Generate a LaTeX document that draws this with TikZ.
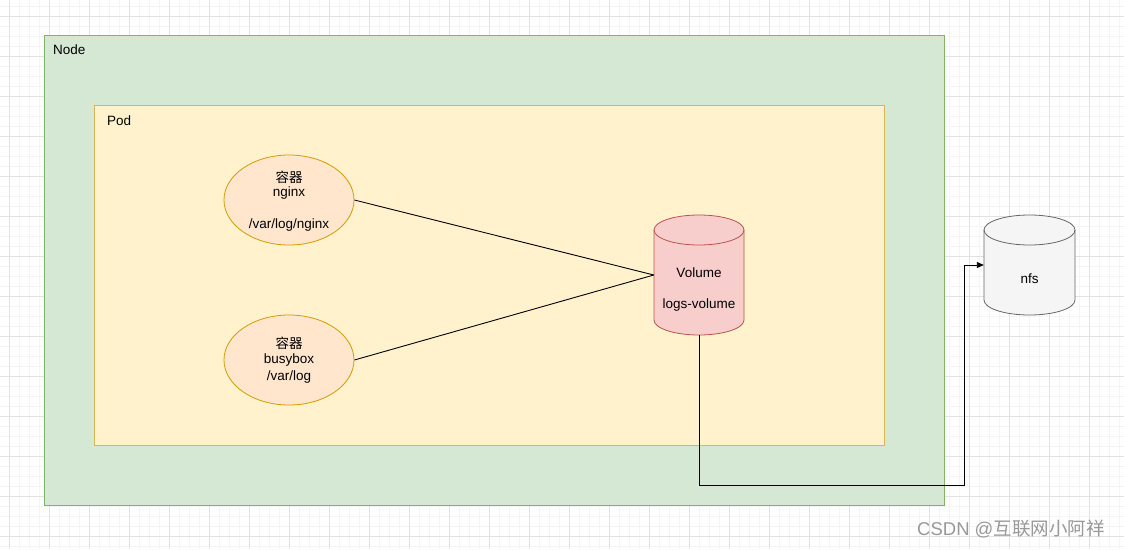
\documentclass[tikz,border=0pt]{standalone}
\usepackage{fontspec}
\setmainfont{Liberation Sans}
\newfontfamily\cjk{Noto Sans CJK SC}
\usetikzlibrary{arrows.meta}
\definecolor{nodefill}{HTML}{D5E8D4}
\definecolor{nodedraw}{HTML}{82B366}
\definecolor{podfill}{HTML}{FFF2CC}
\definecolor{poddraw}{HTML}{D6B656}
\definecolor{ctrfill}{HTML}{FFE6CC}
\definecolor{ctrdraw}{HTML}{D79B00}
\definecolor{volfill}{HTML}{F8CECC}
\definecolor{voldraw}{HTML}{B85450}
\definecolor{nfsfill}{HTML}{F5F5F5}
\definecolor{nfsdraw}{HTML}{666666}
\definecolor{gridmajor}{HTML}{E2E2E2}
\definecolor{gridminor}{HTML}{F5F5F5}
\tikzset{
  lbl/.style={font=\fontsize{13.5}{16}\selectfont, text=black, inner sep=0pt},
  ctr/.style={ellipse, draw=ctrdraw, fill=ctrfill, line width=0.8pt, minimum width=130pt, minimum height=90pt, inner sep=0pt},
  conn/.style={draw=black, line width=0.9pt},
}
\usetikzlibrary{shapes.geometric}
\begin{document}
\begin{tikzpicture}[x=1pt,y=-1pt]
\useasboundingbox (0,0) rectangle (1124,549);
\fill[white] (0,0) rectangle (1124,549);
% grid
\foreach \x in {-0.7,9.3,...,1124} \draw[gridminor, line width=0.5pt] (\x,0) -- (\x,549);
\foreach \y in {6,16,...,549} \draw[gridminor, line width=0.5pt] (0,\y) -- (1124,\y);
\foreach \x in {9.3,49.3,...,1124} \draw[gridmajor, line width=0.7pt] (\x,0) -- (\x,549);
\foreach \y in {16,56,...,549} \draw[gridmajor, line width=0.7pt] (0,\y) -- (1124,\y);
% Node and Pod
\draw[draw=nodedraw, fill=nodefill, line width=0.8pt] (44,35) rectangle (944,505);
\node[lbl, anchor=west] (nodelbl) at (53,50) {Node};
\draw[draw=poddraw, fill=podfill, line width=0.8pt] (94,105) rectangle (884,445);
\node[lbl, anchor=west] (podlbl) at (107,121) {Pod};
% containers
\node[ctr] (nginx) at (289,200) {};
\node[lbl] at (289,177) {\cjk 容器};
\node[lbl] at (289,193) {nginx};
\node[lbl] at (289,225) {/var/log/nginx};
\node[ctr] (busybox) at (289,360) {};
\node[lbl] at (289,343) {\cjk 容器};
\node[lbl] at (289,360) {busybox};
\node[lbl] at (289,377) {/var/log};
% volume cylinder
\node[minimum width=90pt, minimum height=120pt, inner sep=0pt] (vol) at (699,275) {};
\filldraw[draw=voldraw, fill=volfill, line width=0.8pt]
  (654,230) -- (654,320) arc[start angle=180, end angle=0, x radius=45, y radius=15]
  -- (744,230) arc[start angle=0, end angle=-180, x radius=45, y radius=15] -- cycle;
\draw[draw=voldraw, line width=0.8pt] (654,230) arc[start angle=180, end angle=0, x radius=45, y radius=15];
\node[lbl] at (699,273) {Volume};
\node[lbl] at (699,305) {logs-volume};
% nfs cylinder
\node[minimum width=91pt, minimum height=100pt, inner sep=0pt] (nfs) at (1029.5,265) {};
\filldraw[draw=nfsdraw, fill=nfsfill, line width=0.8pt]
  (984,230) -- (984,300) arc[start angle=180, end angle=0, x radius=45.5, y radius=15]
  -- (1075,230) arc[start angle=0, end angle=-180, x radius=45.5, y radius=15] -- cycle;
\draw[draw=nfsdraw, line width=0.8pt] (984,230) arc[start angle=180, end angle=0, x radius=45.5, y radius=15];
\node[lbl] at (1029.5,279) {nfs};
% connectors
\draw[conn] (nginx.east) -- (vol.west);
\draw[conn] (busybox.east) -- (vol.west);
\coordinate (bend1) at (699,485);
\coordinate (bend2) at (964.5,485);
\coordinate (bend3) at (964.5,265);
\draw[conn, -{Triangle[length=7pt, width=6pt]}] (vol.south) -- (bend1) -- (bend2) -- (bend3) -- (nfs.west);
% watermark
\node[font=\fontsize{18.5}{22}\selectfont, text=gray!80, anchor=west, inner sep=0pt] (wm) at (917,529) {CSDN @{\cjk 互联网小阿祥}};
\end{tikzpicture}
\end{document}
